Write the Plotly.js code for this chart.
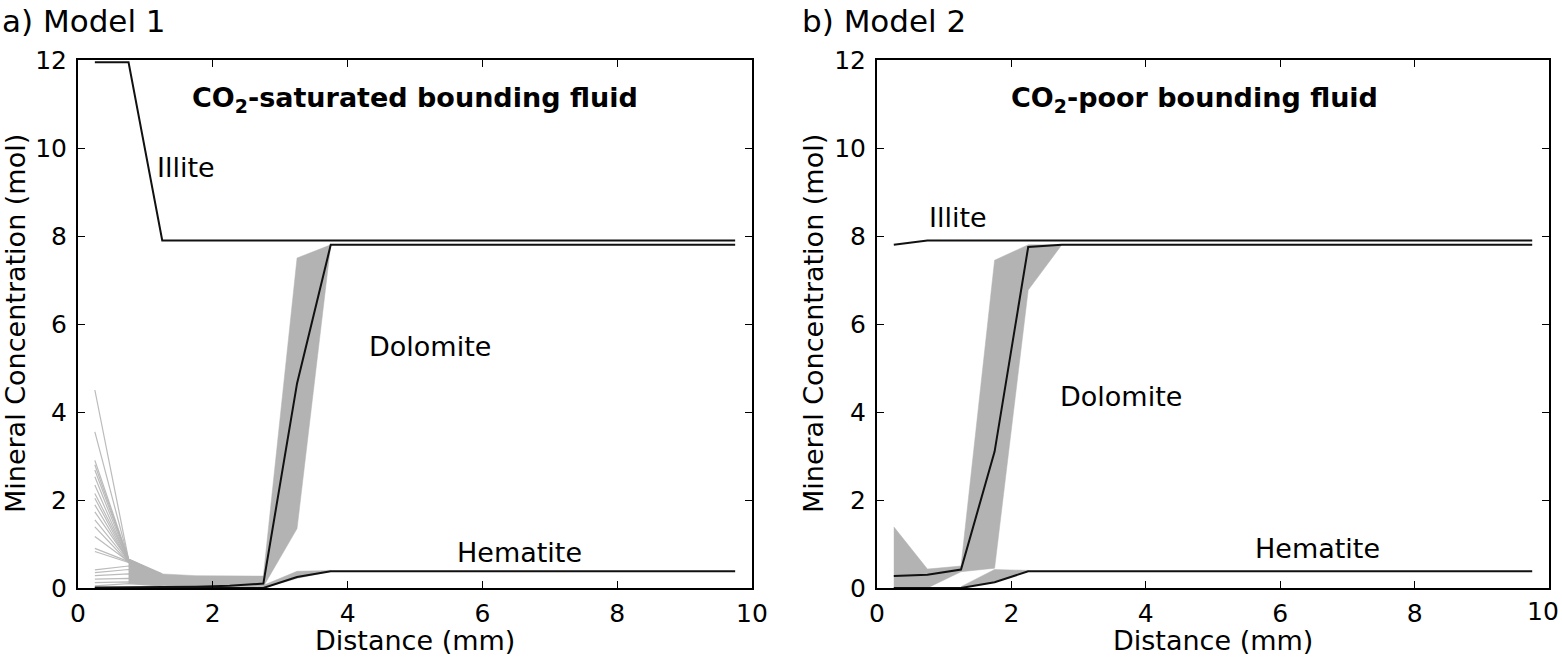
<!DOCTYPE html>
<html>
<head>
<meta charset="utf-8">
<script src="https://cdn.plot.ly/plotly-3.0.1.min.js"></script>
<style>html,body{margin:0;padding:0;background:#fff;}#chart{width:1562px;height:657px;}</style>
</head>
<body>
<div id="chart"></div>
<script>
// ---- Data ----
const X = [0.25,0.75,1.25,1.75,2.25,2.75,3.25,3.75,4.25,4.75,5.25,5.75,6.25,6.75,7.25,7.75,8.25,8.75,9.25,9.75];
const X_TICKS = [0,2,4,6,8,10];
const Y_TICKS = [0,2,4,6,8,10,12];

// Model 1 (black best-fit lines)
const M1_ILLITE   = [11.95,11.95,7.9,7.9,7.9,7.9,7.9,7.9,7.9,7.9,7.9,7.9,7.9,7.9,7.9,7.9,7.9,7.9,7.9,7.9];
const M1_DOLOMITE = [0.01,0.01,0.02,0.03,0.05,0.1,4.65,7.8,7.8,7.8,7.8,7.8,7.8,7.8,7.8,7.8,7.8,7.8,7.8,7.8];
const M1_HEMATITE = [0,0,0,0,0,0,0.25,0.38,0.38,0.38,0.38,0.38,0.38,0.38,0.38,0.38,0.38,0.38,0.38,0.38];

// Model 1 ensemble fan (individual realizations near the inlet)
const FAN_X = [0.25,0.75,1.25];
const FAN1_START = [4.5,3.55,2.9,2.8,2.68,2.53,2.34,2.15,2.04,1.89,1.73,1.55,1.39,1.17,0.9,0.83,0.41,0.35,0.28,0.2,0.12,0.05];
const FAN1_MID   = [0.65,0.65,0.66,0.64,0.65,0.63,0.62,0.64,0.61,0.6,0.62,0.6,0.58,0.6,0.6,0.58,0.5,0.42,0.32,0.22,0.14,0.1];
const FAN1_END   = [0.3,0.3,0.32,0.3,0.28,0.3,0.29,0.27,0.3,0.28,0.26,0.3,0.28,0.25,0.27,0.25,0.22,0.2,0.15,0.12,0.08,0.05];

// Model 1 ensemble envelopes
const ENV1_DOL_X  = [0.75,1.25,1.75,2.25,2.75,3.25,3.75];
const ENV1_DOL_LO = [0.1,0.05,0.04,0.03,0.03,1.35,7.8];
const ENV1_DOL_HI = [0.6,0.32,0.28,0.27,0.27,7.5,7.8];
const ENV1_HEM_X  = [2.75,3.25,3.75];
const ENV1_HEM_LO = [0,0.22,0.38];
const ENV1_HEM_HI = [0.06,0.38,0.4];

// Model 2 (black best-fit lines)
const M2_ILLITE   = [7.8,7.9,7.9,7.9,7.9,7.9,7.9,7.9,7.9,7.9,7.9,7.9,7.9,7.9,7.9,7.9,7.9,7.9,7.9,7.9];
const M2_DOLOMITE = [0.27,0.3,0.42,3.1,7.75,7.8,7.8,7.8,7.8,7.8,7.8,7.8,7.8,7.8,7.8,7.8,7.8,7.8,7.8,7.8];
const M2_HEMATITE = [0,0,0,0.13,0.38,0.38,0.38,0.38,0.38,0.38,0.38,0.38,0.38,0.38,0.38,0.38,0.38,0.38,0.38,0.38];

// Model 2 ensemble envelopes
const ENV2_DOL_X  = [0.25,0.75,1.25,1.75,2.25,2.75];
const ENV2_DOL_LO = [0,0,0.37,0.45,6.77,7.8];
const ENV2_DOL_HI = [1.39,0.43,0.5,7.45,7.8,7.8];
const ENV2_HEM_X  = [1.25,1.75,2.25];
const ENV2_HEM_LO = [0,0.13,0.38];
const ENV2_HEM_HI = [0.03,0.42,0.4];

const PANEL_TITLES = ['a) Model 1','b) Model 2'];
const FLUID_LABELS = ['<b>CO<sub>2</sub>-saturated bounding fluid</b>','<b>CO<sub>2</sub>-poor bounding fluid</b>'];
const X_TITLE = 'Distance (mm)';
const Y_TITLE = 'Mineral Concentration (mol)';

// ---- Styling ----
const FONT = 'DejaVu Sans, Verdana, sans-serif';
const GRAY_FILL = '#b3b3b3';
const GRAY_LINE = 'rgba(180,180,180,0.9)';
const BLACK = '#111111';
const LABEL_SIZE = 27;
const TICK_SIZE = 25;

const traces = [];
function envelope(x, lo, hi, xa, ya) {
  traces.push({x:x, y:lo, xaxis:xa, yaxis:ya, mode:'lines', line:{width:0.5,color:GRAY_FILL}, hoverinfo:'skip', showlegend:false});
  traces.push({x:x, y:hi, xaxis:xa, yaxis:ya, mode:'lines', line:{width:0.5,color:GRAY_FILL}, fill:'tonexty', fillcolor:GRAY_FILL, hoverinfo:'skip', showlegend:false});
}
function black(y, xa, ya) {
  traces.push({x:X, y:y, xaxis:xa, yaxis:ya, mode:'lines', line:{width:2,color:BLACK}, showlegend:false});
}

// Model 1
for (let i = 0; i < FAN1_START.length; i++) {
  traces.push({x:FAN_X, y:[FAN1_START[i], FAN1_MID[i], FAN1_END[i]], xaxis:'x', yaxis:'y', mode:'lines',
    line:{width:1.2,color:GRAY_LINE}, hoverinfo:'skip', showlegend:false});
}
envelope(ENV1_DOL_X, ENV1_DOL_LO, ENV1_DOL_HI, 'x', 'y');
envelope(ENV1_HEM_X, ENV1_HEM_LO, ENV1_HEM_HI, 'x', 'y');
black(M1_ILLITE, 'x', 'y');
black(M1_DOLOMITE, 'x', 'y');
black(M1_HEMATITE, 'x', 'y');

// Model 2
envelope(ENV2_DOL_X, ENV2_DOL_LO, ENV2_DOL_HI, 'x2', 'y2');
envelope(ENV2_HEM_X, ENV2_HEM_LO, ENV2_HEM_HI, 'x2', 'y2');
black(M2_ILLITE, 'x2', 'y2');
black(M2_DOLOMITE, 'x2', 'y2');
black(M2_HEMATITE, 'x2', 'y2');

const W = 1562, H = 657;
const px = v => v / W, py = v => 1 - v / H;

function axis(extra) {
  return Object.assign({
    showline:true, linecolor:'black', linewidth:2, mirror:'ticks',
    ticks:'inside', ticklen:7, tickwidth:1, tickcolor:'black',
    showgrid:false, zeroline:false, fixedrange:true, ticklabeloverflow:'allow',
    tickfont:{family:FONT, size:TICK_SIZE, color:'black'}
  }, extra);
}

const txt = (t, x, y, xa, ya, opts) => Object.assign({text:t, x:x, y:y, xref:xa, yref:ya, showarrow:false,
  font:{family:FONT, size:LABEL_SIZE, color:'black'}}, opts || {});

const lastX = X_TICKS[X_TICKS.length - 1];
const annotations = [
  // panel titles
  txt(PANEL_TITLES[0], px(0), py(21), 'paper', 'paper', {xanchor:'left', yanchor:'middle', font:{family:FONT, size:31, color:'black'}}),
  txt(PANEL_TITLES[1], px(800), py(21), 'paper', 'paper', {xanchor:'left', yanchor:'middle', font:{family:FONT, size:31, color:'black'}}),
  // axis titles
  txt(Y_TITLE, px(15), py(324), 'paper', 'paper', {textangle:-90, xanchor:'center', yanchor:'middle'}),
  txt(Y_TITLE, px(813), py(324), 'paper', 'paper', {textangle:-90, xanchor:'center', yanchor:'middle'}),
  txt(X_TITLE, px(415), py(640), 'paper', 'paper', {xanchor:'center', yanchor:'middle'}),
  txt(X_TITLE, px(1213), py(640), 'paper', 'paper', {xanchor:'center', yanchor:'middle'}),
  // last x tick label of right panel (kept inside the page edge)
  txt(String(lastX), px(1561), py(611), 'paper', 'paper', {xanchor:'right', yanchor:'middle', font:{family:FONT, size:TICK_SIZE, color:'black'}}),
  // in-plot labels, model 1
  txt(FLUID_LABELS[0], 5.0, 11.1, 'x', 'y', {xanchor:'center', yanchor:'middle'}),
  txt('Illite', 1.14, 9.55, 'x', 'y', {xanchor:'left', yanchor:'middle'}),
  txt('Dolomite', 4.29, 5.48, 'x', 'y', {xanchor:'left', yanchor:'middle'}),
  txt('Hematite', 5.59, 0.8, 'x', 'y', {xanchor:'left', yanchor:'middle'}),
  // model 2
  txt(FLUID_LABELS[1], 4.73, 11.1, 'x2', 'y2', {xanchor:'center', yanchor:'middle'}),
  txt('Illite', 0.74, 8.43, 'x2', 'y2', {xanchor:'left', yanchor:'middle'}),
  txt('Dolomite', 2.69, 4.36, 'x2', 'y2', {xanchor:'left', yanchor:'middle'}),
  txt('Hematite', 5.6, 0.89, 'x2', 'y2', {xanchor:'left', yanchor:'middle'})
];

const layout = {
  width:W, height:H,
  margin:{l:0, r:0, t:0, b:0},
  paper_bgcolor:'white', plot_bgcolor:'white',
  showlegend:false,
  xaxis:axis({domain:[px(78), px(752)], range:[0,10], tickvals:X_TICKS, anchor:'y', ticklabelstandoff:2}),
  yaxis:axis({domain:[py(588), py(60)], range:[0,12], tickvals:Y_TICKS, anchor:'x', ticklabelstandoff:4}),
  xaxis2:axis({domain:[px(877), px(1549)], range:[0,10], tickvals:X_TICKS,
               ticktext:X_TICKS.map(v => v === lastX ? '' : String(v)), anchor:'y2', ticklabelstandoff:2}),
  yaxis2:axis({domain:[py(588), py(60)], range:[0,12], tickvals:Y_TICKS, anchor:'x2', ticklabelstandoff:4}),
  annotations:annotations
};

Plotly.newPlot('chart', traces, layout, {staticPlot:true, displayModeBar:false});
</script>
</body>
</html>
